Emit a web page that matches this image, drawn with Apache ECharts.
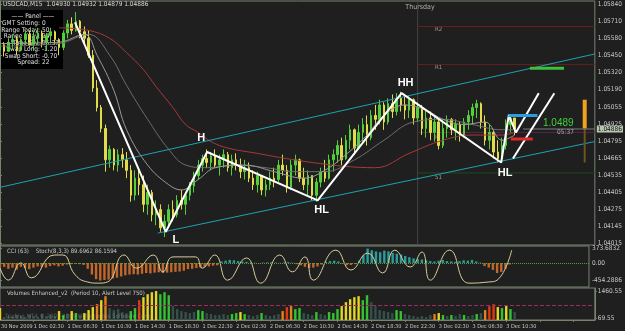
<!DOCTYPE html>
<html>
<head>
<meta charset="utf-8">
<script src="https://cdn.jsdelivr.net/npm/echarts@6/dist/echarts.min.js"></script>
<style>
html,body{margin:0;padding:0;background:#1f1f1f;}
#chart{width:625px;height:331px;}
</style>
</head>
<body>
<div id="chart"></div>
<script>
// USDCAD, half-hour bars from 30 Nov 22:30 to 3 Dec 11:30  [open, close, low, high]
let bars = [
[1.0549,1.0553,1.0545,1.0557],[1.0553,1.0548,1.0544,1.0555],[1.0548,1.0555,1.0548,1.0558],[1.0555,1.0557,1.0549,1.0561],
[1.0557,1.0549,1.0545,1.0560],[1.0549,1.0557,1.0548,1.0558],[1.0557,1.0561,1.0553,1.0564],[1.0561,1.0553,1.0551,1.0564],
[1.0553,1.0558,1.0549,1.0563],[1.0558,1.0562,1.0553,1.0566],[1.0562,1.0555,1.0551,1.0564],[1.0555,1.0560,1.0549,1.0562],
[1.0560,1.0563,1.0554,1.0566],[1.0563,1.0557,1.0553,1.0564],[1.0557,1.0551,1.0545,1.0558],[1.0551,1.0562,1.0549,1.0564],
[1.0562,1.0569,1.0558,1.0572],[1.0569,1.0564,1.0561,1.0574],[1.0564,1.0571,1.0563,1.0578],[1.0571,1.0563,1.0558,1.0572],
[1.0563,1.0558,1.0553,1.0567],[1.0558,1.0545,1.0543,1.0564],[1.0545,1.0520,1.0517,1.0549],[1.0520,1.0505,1.0502,1.0526],
[1.0505,1.0489,1.0486,1.0507],[1.0489,1.0465,1.0456,1.0492],[1.0465,1.0473,1.0459,1.0476],[1.0473,1.0461,1.0457,1.0474],
[1.0461,1.0469,1.0456,1.0473],[1.0469,1.0465,1.0459,1.0474],[1.0465,1.0457,1.0451,1.0471],[1.0457,1.0438,1.0433,1.0461],
[1.0438,1.0451,1.0434,1.0457],[1.0451,1.0446,1.0438,1.0459],[1.0446,1.0431,1.0425,1.0453],[1.0431,1.0440,1.0423,1.0446],
[1.0440,1.0423,1.0418,1.0442],[1.0423,1.0427,1.0415,1.0434],[1.0427,1.0413,1.0410,1.0431],[1.0413,1.0418,1.0406,1.0423],
[1.0418,1.0427,1.0413,1.0431],[1.0427,1.0423,1.0418,1.0434],[1.0423,1.0434,1.0421,1.0438],[1.0434,1.0431,1.0427,1.0442],
[1.0431,1.0438,1.0423,1.0440],[1.0438,1.0445,1.0434,1.0448],[1.0445,1.0453,1.0440,1.0456],[1.0453,1.0461,1.0450,1.0465],
[1.0461,1.0466,1.0456,1.0469],[1.0466,1.0463,1.0459,1.0473],[1.0463,1.0468,1.0457,1.0471],[1.0468,1.0461,1.0459,1.0473],
[1.0461,1.0465,1.0453,1.0469],[1.0465,1.0469,1.0459,1.0473],[1.0469,1.0459,1.0456,1.0471],[1.0459,1.0465,1.0453,1.0469],
[1.0465,1.0461,1.0457,1.0470],[1.0461,1.0456,1.0451,1.0466],[1.0456,1.0459,1.0450,1.0465],[1.0459,1.0451,1.0448,1.0463],
[1.0451,1.0446,1.0442,1.0457],[1.0446,1.0453,1.0440,1.0456],[1.0453,1.0442,1.0438,1.0453],[1.0442,1.0446,1.0437,1.0450],
[1.0446,1.0451,1.0442,1.0456],[1.0451,1.0448,1.0444,1.0459],[1.0450,1.0461,1.0448,1.0465],[1.0461,1.0457,1.0453,1.0469],
[1.0457,1.0444,1.0440,1.0461],[1.0444,1.0461,1.0442,1.0465],[1.0461,1.0465,1.0453,1.0469],[1.0465,1.0451,1.0448,1.0466],
[1.0451,1.0446,1.0442,1.0459],[1.0446,1.0453,1.0438,1.0457],[1.0453,1.0438,1.0434,1.0453],[1.0438,1.0448,1.0433,1.0451],
[1.0448,1.0456,1.0444,1.0459],[1.0456,1.0451,1.0448,1.0465],[1.0451,1.0465,1.0450,1.0469],[1.0465,1.0469,1.0456,1.0473],
[1.0469,1.0476,1.0463,1.0480],[1.0476,1.0465,1.0461,1.0482],[1.0466,1.0480,1.0465,1.0484],[1.0480,1.0488,1.0473,1.0492],
[1.0488,1.0474,1.0469,1.0489],[1.0474,1.0486,1.0473,1.0492],[1.0486,1.0492,1.0479,1.0497],[1.0492,1.0482,1.0476,1.0499],
[1.0482,1.0499,1.0480,1.0503],[1.0499,1.0496,1.0488,1.0507],[1.0496,1.0507,1.0492,1.0511],[1.0507,1.0494,1.0488,1.0509],
[1.0494,1.0508,1.0492,1.0512],[1.0508,1.0502,1.0497,1.0515],[1.0502,1.0512,1.0499,1.0516],[1.0512,1.0507,1.0502,1.0517],
[1.0507,1.0503,1.0496,1.0515],[1.0503,1.0511,1.0497,1.0514],[1.0511,1.0497,1.0492,1.0512],[1.0497,1.0505,1.0494,1.0509],
[1.0505,1.0489,1.0484,1.0507],[1.0489,1.0497,1.0482,1.0503],[1.0497,1.0486,1.0480,1.0502],[1.0486,1.0494,1.0479,1.0499],
[1.0494,1.0476,1.0473,1.0497],[1.0476,1.0489,1.0474,1.0496],[1.0489,1.0496,1.0482,1.0499],[1.0496,1.0488,1.0484,1.0497],
[1.0488,1.0492,1.0480,1.0496],[1.0492,1.0484,1.0479,1.0494],[1.0484,1.0494,1.0482,1.0497],[1.0494,1.0499,1.0488,1.0503],
[1.0499,1.0505,1.0492,1.0508],[1.0505,1.0508,1.0497,1.0511],[1.0508,1.0494,1.0489,1.0509],[1.0494,1.0480,1.0476,1.0499],
[1.0480,1.0486,1.0473,1.0492],[1.0486,1.0471,1.0466,1.0488],[1.0471,1.0466,1.0463,1.0480],[1.0466,1.0476,1.0463,1.0482],
[1.0476,1.0492,1.0473,1.0496],[1.0492,1.0497,1.0486,1.0500],[1.0497,1.0489,1.0484,1.0497]
];

let xLabels = ['30 Nov 2009','1 Dec 02:30','1 Dec 06:30','1 Dec 10:30','1 Dec 14:30','1 Dec 18:30','1 Dec 22:30',
  '2 Dec 02:30','2 Dec 06:30','2 Dec 10:30','2 Dec 14:30','2 Dec 18:30','2 Dec 22:30','3 Dec 02:30','3 Dec 06:30','3 Dec 10:30'];
let slotCount = 142;   // bar slots incl. the empty shift space on the right
let yTicks = [1.04015,1.04145,1.04275,1.04405,1.04535,1.04665,1.04795,1.04925,1.05055,1.05190,1.05320,1.05450,1.05580,1.05710,1.05840];

// moving averages [slot, price]
let maRed = [[14,1.0566],[21,1.0564],[26,1.0558],[30,1.0547],[34,1.0534],[37,1.0521],[41,1.0505],[44,1.0492],[47,1.0486],
  [50,1.0479],[54,1.0474],[61,1.0470],[66,1.0467],[74,1.0463],[82,1.0460],[89,1.0459],[97,1.0470],[105,1.0480],[112,1.0484],[119,1.0484],[122,1.0486]];
let maFast = [[0,1.0554],[14,1.0555],[20,1.0561],[23,1.0545],[27,1.0518],[30,1.0488],[35,1.0461],[40,1.0446],[43,1.0442],[47,1.0450],
  [51,1.0459],[58,1.0461],[65,1.0456],[72,1.0451],[77,1.0457],[82,1.0469],[87,1.0484],[91,1.0499],[96,1.0507],[101,1.0503],
  [105,1.0496],[110,1.0492],[115,1.0494],[119,1.0480],[122,1.0484]];
let maSlow = [[0,1.0552],[14,1.0554],[21,1.0561],[26,1.0545],[30,1.0522],[35,1.0496],[40,1.0473],[44,1.0461],[49,1.0459],[56,1.0461],
  [63,1.0459],[70,1.0456],[77,1.0456],[84,1.0465],[91,1.0480],[98,1.0494],[105,1.0496],[112,1.0492],[119,1.0488],[122,1.0488]];

// hand drawn objects
let zigzag = [[17.8,1.0570],[39.3,1.0410],[49.1,1.0471],[75.3,1.0434],[95.2,1.0516],[118.8,1.0463],[120.6,1.0499],[122.3,1.0486],[127.7,1.0516]];
let zigzagNames = ['','L','H','HL','HH','HL','','',''];
let projLine = [[121.6,1.0466],[131.4,1.0516]];
let chUpper = [[0,1.0444],[141,1.0546]];
let chLower = [[37.4,1.0409],[141,1.0479]];
let daySep = 99;
let pivots = [['R2',1.0567,'#6a1f1f'],['R1',1.0538,'#6a1f1f'],['',1.0486,'#55284f'],['S1',1.0455,'#1f4a1f']];
let bidPrice = 1.04886;
let blueLevel = [[120.4,1.0499],[127.4,1.0499]];
let redLevel = [[121.1,1.0481],[126.3,1.0481]];
let greenLevel = [[125.6,1.0535],[133.7,1.0535]];
let rangeHi = [[138.6,1.0511],[138.6,1.0489]];
let rangeLo = [[138.6,1.0489],[138.6,1.0463]];

// CCI(63) histogram and Stoch(8,3,3)
let cci = [-120,-100,-150,-120,-170,-100,-130,-160,-120,-90,
  -100,-120,-80,-60,-90,-70,-40,-30,-20,-30,
  -50,-150,-300,-420,-454,-440,-430,-400,-380,-350,
  -320,-300,-290,-300,-280,-260,-270,-250,-240,-260,
  -250,-240,-230,-220,-200,-160,-150,-130,-120,-100,
  -90,-70,-60,40,60,80,70,50,40,30,
  10,5,-5,10,15,20,10,5,15,20,
  10,-30,-60,-100,-130,-120,-90,-40,30,50,
  60,40,-20,-60,-50,-30,60,200,373,330,
  300,280,320,300,260,240,220,180,150,120,
  100,90,70,50,40,60,80,50,40,30,
  50,70,60,80,40,10,-80,-120,-180,-260,
  -230,-150,-40];
let cciTicks = [373.6832, 0, -454.2886];
let cciTickText = ['373.6832','0.00','-454.2886'];
let stoch = [[0,45],[2,13],[5,59],[7.5,19],[13,80],[15,80],[18,27],[21,8],[23.4,5],[25.7,8],[29.7,80],[32.7,45],[36.7,80],
  [39,35],[41.4,75],[46.8,75],[48.4,45],[51.4,80],[54.5,13],[59,72],[62.4,5],[67,80],[70,35],[73,75],[75,13],[80.4,93],
  [84,40],[88,85],[91.6,32],[94.5,93],[98.2,48],[101,88],[103,13],[107.6,93],[112.2,5],[116.9,8],[119,13],[122.5,93]];

// Volumes Enhanced
let volumes = [600,150,200,150,250,200,150,250,200,150,
  300,200,250,200,450,250,300,450,350,200,
  350,500,650,800,1000,1200,600,500,550,400,
  350,450,600,1000,1150,1300,1400,1460,1300,1400,
  1250,700,550,450,400,350,400,500,450,350,
  300,250,250,300,250,300,350,400,300,250,
  200,250,350,250,200,250,300,450,650,700,
  550,600,350,300,250,400,300,250,400,350,
  550,700,900,1050,1150,1200,1000,1250,900,700,
  500,450,400,350,500,450,300,250,200,150,
  200,150,250,300,350,250,200,250,200,300,
  250,200,250,300,350,500,700,800,650,600,
  700,550,400];
let volKinds = 'Yggggggggg' + 'ggggYGgYGg' + 'YYYOYOgggg' + 'gGGRYYYYGG' + 'GggggggGGg' + 'gggggGGYGg' +
  'ggGggggORO' + 'GGgggGggGG' + 'GYYYYYGGgg' + 'ggggGGgggg' + 'gggOYGgGgg' + 'GggGgORRYG' + 'YGg';
let volTicks = [1460.55, 69.55];
let alertLevel = 750;

let panelKeys = ['GMT Setting:','Range Today:','Range Yday:','Time Srv:','Swap Long:','Swap Short:','Spread:'];
let panelVals = ['0','50','94','05:37','-1.20','-0.70','22'];

const frame = '#76846f';
const txt = '#c9c9c9';
const font = "'Liberation Sans Narrow','DejaVu Sans Condensed',sans-serif";
const volColor = { g: '#34504b', G: '#35c232', Y: '#e4d622', O: '#e2801c', R: '#e0380f' };
const xFontSize = 5.5;

let chart = echarts.init(document.getElementById('chart'));

let cats = [];
for (let i = 0; i < slotCount; i++) cats.push(String(i));

function lineSeries(data, color, width, extra) {
    return Object.assign({
        type: 'line', xAxisIndex: 1, yAxisIndex: 0, data: data,
        symbol: 'none', silent: true, z: 3,
        lineStyle: { color: color, width: width }
    }, extra || {});
}

let series = [];

// day separator and pivot levels (behind the bars)
series.push(lineSeries([[daySep, 1.0400], [daySep, 1.0586]], '#454545', 1, { z: 1 }));
pivots.forEach(p => {
    series.push(lineSeries([[daySep, p[1]], [slotCount - 1, p[1]]], p[2], 1, { z: 1 }));
});

series.push({
    type: 'candlestick', xAxisIndex: 0, yAxisIndex: 0, data: bars, barWidth: 2, z: 2,
    itemStyle: { color: '#52cf3a', color0: '#e2dc4c', borderColor: '#52cf3a', borderColor0: '#e2dc4c', borderWidth: 1 }
});

series.push(lineSeries(maRed, '#a8383a', 1, { smooth: 0.4 }));
series.push(lineSeries(maSlow, '#6e6e6e', 1, { smooth: 0.4 }));
series.push(lineSeries(maFast, '#9a9a9a', 1, { smooth: 0.4 }));
series.push(lineSeries(chUpper, '#1ea2b4', 1));
series.push(lineSeries(chLower, '#1ea2b4', 1));
series.push(lineSeries(zigzag.map((p, i) => ({
    value: p,
    label: zigzagNames[i] ? {
        show: true, formatter: zigzagNames[i], color: '#ffffff', fontSize: 11, fontWeight: 'bold',
        fontFamily: "'Liberation Sans',sans-serif",
        position: (zigzagNames[i] === 'H' || zigzagNames[i] === 'HH') ? 'top' : 'bottom',
        distance: 4,
        offset: zigzagNames[i] === 'H' ? [-6, -4] : (zigzagNames[i] === 'L' ? [10, -2] : [4, 0])
    } : { show: false }
})), '#ffffff', 2, { symbol: 'circle', symbolSize: 1, showSymbol: true, itemStyle: { color: '#fff' }, z: 4 }));
series.push(lineSeries(projLine, '#ffffff', 2, { z: 4 }));
series.push(lineSeries(blueLevel, '#2a9ee0', 3, { z: 4 }));
series.push(lineSeries(redLevel, '#e02828', 3, { z: 4 }));
series.push(lineSeries(greenLevel, '#3cc03c', 3, { z: 4 }));
series.push(lineSeries(rangeLo, '#6e5420', 2));
series.push(lineSeries(rangeHi, '#f0a21e', 4));
series.push(lineSeries([[124, bidPrice], [slotCount - 1, bidPrice]], '#7c7c7c', 1, {
    endLabel: {
        show: true, formatter: bidPrice.toFixed(5), color: '#111', backgroundColor: '#b7c6ae',
        fontSize: 6.5, fontFamily: font, padding: [0, 1], distance: 2
    }
}));

// CCI panel
series.push({
    type: 'bar', xAxisIndex: 2, yAxisIndex: 1, data: cci, barWidth: 2.4, silent: true,
    itemStyle: { color: p => p.value >= 0 ? '#2b9c9c' : '#c2672c' },
    markLine: {
        symbol: 'none', silent: true, label: { show: false },
        lineStyle: { color: '#5f9a32', type: 'dotted', width: 1 },
        data: [{ yAxis: 0 }]
    }
});
series.push({
    type: 'line', xAxisIndex: 3, yAxisIndex: 2, data: stoch, smooth: 0.5, symbol: 'none', silent: true,
    lineStyle: { color: '#d6cf9c', width: 1 }
});

// volume panel
series.push({
    type: 'bar', xAxisIndex: 4, yAxisIndex: 3, barWidth: 2.4, silent: true,
    data: volumes.map((v, i) => ({ value: v, itemStyle: { color: volColor[volKinds[i]] } })),
    markLine: {
        symbol: 'none', silent: true, label: { show: false },
        lineStyle: { color: '#9a2d5c', type: 'dashed', width: 1 },
        data: [{ yAxis: alertLevel }]
    }
});

const gridBase = { left: 0, width: 603, show: true, borderColor: frame, borderWidth: 1, backgroundColor: 'transparent' };
const hiddenCat = { type: 'category', data: cats, boundaryGap: false, show: false };
const overlay = { type: 'value', min: 0, max: slotCount - 1, show: false };
const rightAxis = {
    type: 'value', position: 'right', splitLine: { show: false },
    axisLine: { show: true, lineStyle: { color: frame } },
    axisTick: { show: true, length: 2, lineStyle: { color: frame } }
};
const labelStyle = { color: txt, fontSize: 6.5, fontFamily: font, margin: 3 };

let option = {
    backgroundColor: '#1f1f1f',
    animation: false,
    textStyle: { fontFamily: font },
    grid: [
        Object.assign({ top: 1, height: 244 }, gridBase),
        Object.assign({ top: 246, height: 41 }, gridBase),
        Object.assign({ top: 288, height: 32 }, gridBase)
    ],
    xAxis: [
        Object.assign({ gridIndex: 0 }, hiddenCat),
        Object.assign({ gridIndex: 0 }, overlay),
        Object.assign({ gridIndex: 1 }, hiddenCat),
        Object.assign({ gridIndex: 1 }, overlay),
        {
            gridIndex: 2, type: 'category', data: cats, boundaryGap: false,
            axisLine: { show: true, lineStyle: { color: frame } },
            axisTick: { show: true, interval: 7, length: 2, lineStyle: { color: frame } },
            axisLabel: Object.assign({}, labelStyle, {
                interval: 7, align: 'left', margin: 4, fontSize: xFontSize, showMinLabel: false,
                // the first date is written separately below so it does not knock out its neighbour
                formatter: v => { let i = +v; return (i > 0 && i % 8 === 0) ? (xLabels[i / 8] || '') : ''; }
            })
        }
    ],
    yAxis: [
        Object.assign({
            gridIndex: 0, min: 1.03999, max: 1.05865,
            axisLabel: Object.assign({ customValues: yTicks, formatter: v => v.toFixed(5) }, labelStyle)
        }, rightAxis, { axisTick: Object.assign({ customValues: yTicks }, rightAxis.axisTick) }),
        Object.assign({
            gridIndex: 1, min: -622, max: 440,
            axisLabel: Object.assign({
                customValues: cciTicks,
                formatter: v => { let k = cciTicks.findIndex(t => Math.abs(t - v) < 1e-6); return k >= 0 ? cciTickText[k] : ''; }
            }, labelStyle)
        }, rightAxis, { axisTick: Object.assign({ customValues: cciTicks }, rightAxis.axisTick) }),
        { gridIndex: 1, type: 'value', min: -5.3, max: 104, show: false },
        Object.assign({
            gridIndex: 2, min: 0, max: 1613,
            axisLabel: Object.assign({ customValues: volTicks, formatter: v => v.toFixed(2) }, labelStyle)
        }, rightAxis, { axisTick: Object.assign({ customValues: volTicks }, rightAxis.axisTick) })
    ],
    series: series,
    graphic: [
        { type: 'rect', shape: { x: 0, y: 10, width: 63, height: 59 }, style: { fill: '#000' }, z: 0, silent: true },
        { type: 'text', left: 3, top: 1, z: 10, style: { text: 'USDCAD,M15  1.04930 1.04932 1.04879 1.04886', fill: '#d8d8d8', fontSize: 6.5, fontFamily: font } },
        { type: 'text', x: 33, y: 13, z: 0, style: { text: '—— Panel ——', fill: '#e0e0e0', fontSize: 6.5, fontFamily: font, textAlign: 'center' } }
    ].concat(panelKeys.map((k, i) => ({
        type: 'text', x: 40, y: 20 + i * 6.5, z: 0,
        style: { text: k, fill: '#e0e0e0', fontSize: 6.5, fontFamily: font, textAlign: 'right' }
    }))).concat(panelVals.map((v, i) => ({
        type: 'text', x: 42, y: 20 + i * 6.5, z: 0,
        style: { text: v, fill: '#e0e0e0', fontSize: 6.5, fontFamily: font }
    }))).concat([
        { type: 'text', x: 1, y: 323.5, style: { text: xLabels[0], fill: txt, fontSize: xFontSize, fontFamily: font } },
        { type: 'text', x: 420, y: 4, style: { text: 'Thursday', fill: '#b0b0b0', fontSize: 7, fontFamily: font, textAlign: 'center' } },
        { type: 'text', x: 435, y: 26, style: { text: 'R2', fill: '#9a9a9a', fontSize: 6, fontFamily: font } },
        { type: 'text', x: 435, y: 64, style: { text: 'R1', fill: '#9a9a9a', fontSize: 6, fontFamily: font } },
        { type: 'text', x: 435, y: 134, style: { text: 'Pt', fill: '#9a9a9a', fontSize: 6, fontFamily: font } },
        { type: 'text', x: 435, y: 174, style: { text: 'S1', fill: '#9a9a9a', fontSize: 6, fontFamily: font } },
        { type: 'text', x: 543, y: 118, z: 10, style: { text: '1.0489', fill: '#3fd23c', fontSize: 10, fontFamily: "'Liberation Sans',sans-serif" } },
        { type: 'text', x: 557, y: 129, z: 10, style: { text: '05:37', fill: '#a8a8a8', fontSize: 6.5, fontFamily: font } },
        { type: 'text', x: 7, y: 248, z: 10, style: { text: 'CCI (63)    Stoch(8,3,3) 89.6962 86.1594', fill: txt, fontSize: 6, fontFamily: font } },
        { type: 'text', x: 7, y: 290, z: 10, style: { text: 'Volumes Enhanced_v2  (Period 10, Alert Level 750)', fill: txt, fontSize: 6, fontFamily: font } },
        { type: 'text', x: 5, y: 313, z: 10, style: { text: 'Trading MT4 © 2001-2009 MetaQuotes Software Corp.', fill: 'rgba(200,200,200,0.35)', fontSize: 6, fontFamily: font } }
    ])
};

chart.setOption(option);
</script>
</body>
</html>
